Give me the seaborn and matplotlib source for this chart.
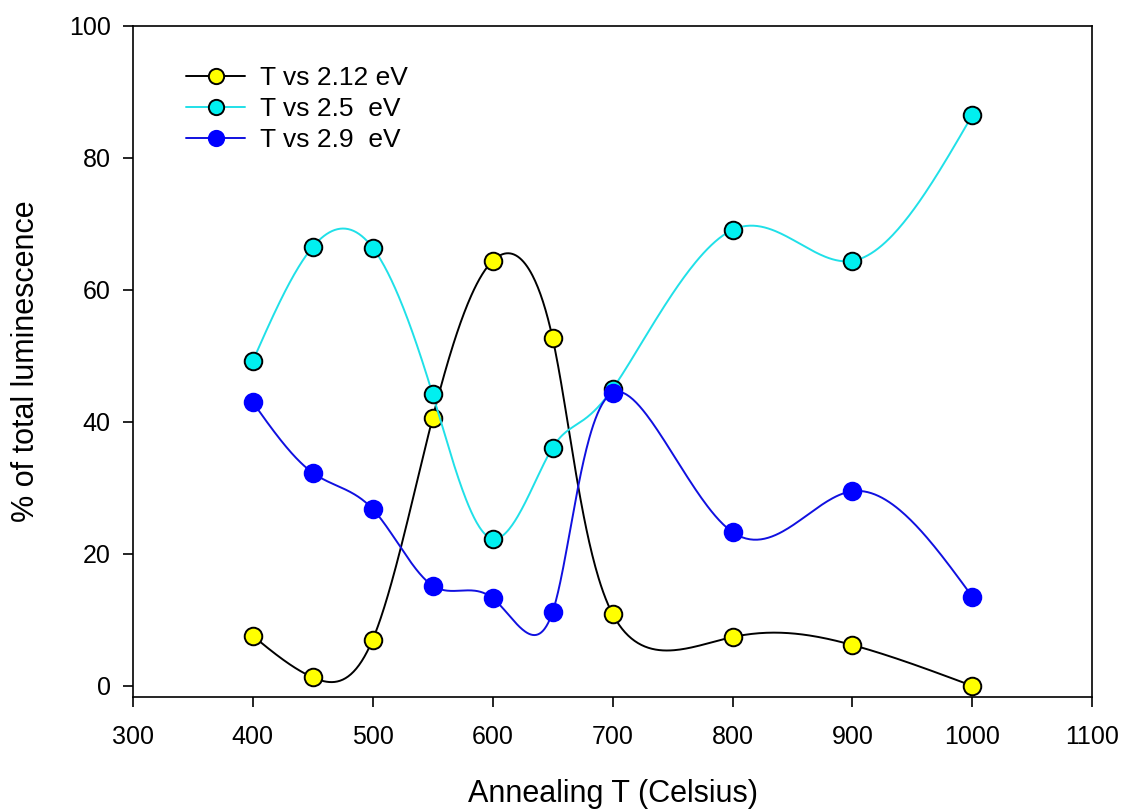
import numpy as np
import pandas as pd
import matplotlib
matplotlib.use("Agg")
import matplotlib.pyplot as plt
from matplotlib.lines import Line2D
import seaborn as sns

temps = [400, 450, 500, 550, 600, 650, 700, 800, 900, 1000]
ev212 = [7.6, 1.3, 7.0, 40.6, 64.4, 52.7, 10.9, 7.4, 6.2, 0.0]
ev25 = [49.2, 66.5, 66.4, 44.2, 22.3, 36.1, 45.0, 69.1, 64.4, 86.5]
ev29 = [43.0, 32.3, 26.8, 15.2, 13.3, 11.2, 44.4, 23.3, 29.5, 13.5]
labels = ["T vs 2.12 eV", "T vs 2.5  eV", "T vs 2.9  eV"]
xticks = [300, 400, 500, 600, 700, 800, 900, 1000, 1100]
yticks = [0, 20, 40, 60, 80, 100]


def _nat(t, y, ts):
    t = np.asarray(t, float)
    y = np.asarray(y, float)
    k = len(t)
    h = np.diff(t)
    A = np.zeros((k, k))
    b = np.zeros(k)
    A[0, 0] = 1
    A[-1, -1] = 1
    for i in range(1, k - 1):
        A[i, i - 1] = h[i - 1]
        A[i, i] = 2 * (h[i - 1] + h[i])
        A[i, i + 1] = h[i]
        b[i] = 6 * ((y[i + 1] - y[i]) / h[i] - (y[i] - y[i - 1]) / h[i - 1])
    M = np.linalg.solve(A, b)
    idx = np.clip(np.searchsorted(t, ts) - 1, 0, k - 2)
    t0, t1 = t[idx], t[idx + 1]
    hh = t1 - t0
    return (M[idx] * (t1 - ts) ** 3 / (6 * hh) + M[idx + 1] * (ts - t0) ** 3 / (6 * hh)
            + (y[idx] / hh - M[idx] * hh / 6) * (t1 - ts)
            + (y[idx + 1] / hh - M[idx + 1] * hh / 6) * (ts - t0))


def smooth_curve(x, y, n=600):
    t = np.arange(len(x), dtype=float)
    ts = np.linspace(0, len(x) - 1, n)
    return _nat(t, x, ts), _nat(t, y, ts)


sns.set_theme(style="white")
plt.rcParams['font.family'] = ['Liberation Sans', 'DejaVu Sans']

fig = plt.figure(figsize=(11.25, 8.09), dpi=100)
ax = fig.add_axes([0.118, 0.1385, 0.853, 0.8295])

series = [
    (ev212, "black", "yellow", "black"),
    (ev25, "#20E0E8", "#00F0F0", "black"),
    (ev29, "#1010E0", "#0000FF", "#0000FF"),
]
handles = []
for i, (vals, lc, fc, ec) in enumerate(series):
    xs, ys = smooth_curve(temps, vals)
    sns.lineplot(x=xs, y=ys, sort=False, estimator=None, color=lc, lw=1.4,
                 ax=ax, zorder=2 + 2 * i)
    sns.scatterplot(x=temps, y=vals, s=160, color=fc, edgecolor=ec,
                    linewidth=1.4, ax=ax, zorder=3 + 2 * i)
    handles.append(Line2D([0], [0], color=lc, lw=1.4, marker='o', markersize=11,
                          markerfacecolor=fc, markeredgecolor=ec, markeredgewidth=1.4))

ax.set_xlim(300, 1100)
ax.set_ylim(-1.67, 100)
ax.set_xticks(xticks)
ax.set_yticks(yticks)
ax.tick_params(direction='out', length=7, width=1.2, labelsize=18, color='black',
               labelcolor='black', bottom=True, left=True)
ax.tick_params(axis='x', pad=13)
ax.tick_params(axis='y', pad=9)
for sp in ax.spines.values():
    sp.set_color('black')
    sp.set_linewidth(1.2)
ax.set_xlabel("Annealing T (Celsius)", fontsize=22, labelpad=22, color='black')
ax.set_ylabel("% of total luminescence", fontsize=22, labelpad=20, color='black')

ax.legend(handles, labels, loc='upper left', frameon=False, fontsize=19,
          bbox_to_anchor=(0.056, 0.94), borderaxespad=0, borderpad=0,
          handlelength=2.2, handletextpad=0.6, labelspacing=0.27,
          labelcolor='black')

fig.savefig("out.png", dpi=100)
